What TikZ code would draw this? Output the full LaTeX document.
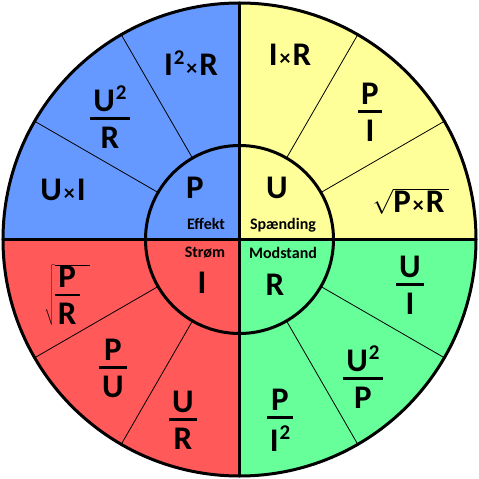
\documentclass[tikz,border=0pt]{standalone}
\usepackage{fontspec}
\setmainfont{Carlito}
\definecolor{qblue}{RGB}{102,153,255}
\definecolor{qyellow}{RGB}{255,255,153}
\definecolor{qred}{RGB}{255,89,89}
\definecolor{qgreen}{RGB}{102,255,153}
\newcommand\frc[2]{\vbox{\offinterlineskip\halign{\kern3pt\hfil##\hfil\kern3pt\cr
  #1\cr\noalign{\kern6pt\hrule height 2.6pt\kern7pt}
  #2\cr}}}
\newcommand\sqi{\kern1pt\raisebox{11.5pt}{\fontsize{21}{21}\selectfont 2}}
\newcommand\tms{\kern2pt{\fontsize{22}{22}\selectfont ×}\kern2pt}
\begin{document}
\begin{tikzpicture}[x=1pt,y=1pt,
  big/.style={font=\fontsize{33}{39}\selectfont\bfseries, inner sep=0pt},
  lbl/.style={font=\fontsize{16}{18}\selectfont\bfseries, inner sep=0pt},
  heavy/.style={line width=3pt},
  hairline/.style={line width=0.8pt}]
\useasboundingbox (-239.5,-239.5) rectangle (239.5,239.5);
\begin{scope}
  \clip (0,0) circle (236.5);
  \fill[qblue]   (-240,0) rectangle (0,240);
  \fill[qyellow] (0,0) rectangle (240,240);
  \fill[qred]    (-240,-240) rectangle (0,0);
  \fill[qgreen]  (0,-240) rectangle (240,0);
\end{scope}
\foreach \a in {30,60,120,150,210,240,300,330}
  \draw[hairline] (\a:94) -- (\a:236.5);
\draw[heavy] (-236.5,0) -- (236.5,0);
\draw[heavy] (0,-236.5) -- (0,236.5);
\draw[heavy] (0,0) circle (94);
\draw[heavy] (0,0) circle (236.5);
% inner
\node[big] (P) at (-44.5,51.5) {P};
\node[lbl] (Pl) at (-33.5,15.5) {Effekt};
\node[big] (U) at (37.5,51.5) {U};
\node[lbl] (Ul) at (43.5,14.5) {Spænding};
\node[big] (I) at (-37.5,-43.5) {I};
\node[lbl] (Il) at (-34.5,-13.5) {Strøm};
\node[big] (R) at (35.5,-45.5) {R};
\node[lbl] (Rl) at (43.5,-13.5) {Modstand};
% P quadrant
\node[big] (p1) at (-48.5,176.5) {I\sqi\tms R};
\node[big] (p2) at (-129.5,122.5) {\frc{U\sqi}{R}};
\node[big] (p3) at (-176.5,49.5) {U\tms I};
% U quadrant
\node[big] (u1) at (50.5,184.5) {I\tms R};
\node[big] (u2) at (130.5,127.5) {\frc{P}{I}};
\node[big] (u3) at (171.5,38.5) {$\sqrt{\hbox{P\tms R\kern5pt}}$};
% I quadrant
\node[big] (i1) at (-172.5,-55.5) {$\sqrt{\hbox{\frc{P}{R}\kern10pt}}$};
\node[big] (i2) at (-126.5,-128.5) {\frc{P}{U}};
\node[big] (i3) at (-56.5,-180.5) {\frc{U}{R}};
% R quadrant
\node[big] (r1) at (170.5,-45.5) {\frc{U}{I}};
\node[big] (r2) at (123.5,-137.5) {\frc{U\sqi}{P}};
\node[big] (r3) at (40.5,-180.5) {\frc{P}{I\sqi}};
\end{tikzpicture}
\end{document}
